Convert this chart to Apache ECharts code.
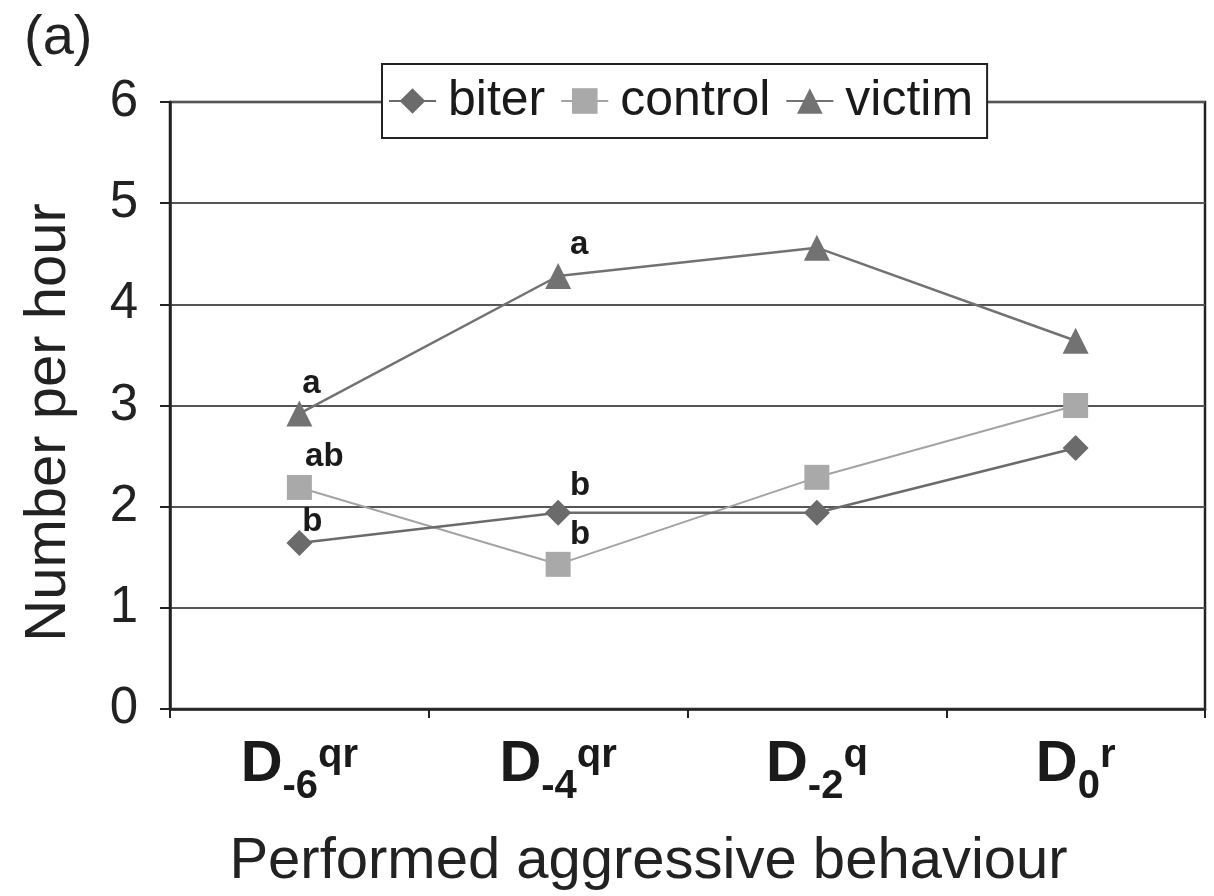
<!DOCTYPE html>
<html>
<head>
<meta charset="utf-8">
<script src="https://cdn.jsdelivr.net/npm/echarts@6/dist/echarts.min.js"></script>
<style>
  html, body { margin: 0; padding: 0; background: #fff; }
  #chart { width: 1214px; height: 896px; }
</style>
</head>
<body>
<div id="chart"></div>
<script>
const FONT = 'Arial, "Liberation Sans", Helvetica, sans-serif';

// categories: base letter + subscript + superscript
const categories = ['D-6qr', 'D-4qr', 'D-2q', 'D0r'];
const catSub = ['-6', '-4', '-2', '0'];
const catSup = ['qr', 'qr', 'q', 'r'];

const biter = [1.64, 1.94, 1.94, 2.58];
const control = [2.19, 1.43, 2.29, 3.0];
const victim = [2.92, 4.28, 4.56, 3.64];

// significance letters above points
const biterMarks = ['b', 'b', '', ''];
const controlMarks = ['ab', 'b', '', ''];
const victimMarks = ['a', 'a', '', ''];

const yTicks = [0, 1, 2, 3, 4, 5, 6];

const markOffsets = {
  biter: [[13, -21], [22, -27]],
  control: [[25, -31], [22, -29]],
  victim: [[12, -30], [21, -31]],
};

const withMarks = (values, marks, offsets) =>
  values.map((v, i) => {
    if (!marks[i]) return v;
    return {
      value: v,
      label: {
        show: true,
        position: 'inside',
        offset: offsets[i],
        formatter: marks[i],
        fontFamily: FONT,
        fontSize: 33,
        fontWeight: 'bold',
        color: '#1a1a1a',
      },
    };
  });

const chart = echarts.init(document.getElementById('chart'), null, { renderer: 'canvas' });

chart.setOption({
  animation: false,
  backgroundColor: '#fff',
  title: {
    text: '(a)',
    left: 19,
    top: 6,
    textStyle: { fontFamily: FONT, fontSize: 56, fontWeight: 'normal', color: '#222' },
  },
  legend: {
    top: 64,
    left: 382,
    itemWidth: 47,
    itemHeight: 32,
    itemGap: 15,
    padding: [12, 14, 12, 6],
    borderColor: '#222',
    borderWidth: 2,
    backgroundColor: '#fff',
    textStyle: { fontFamily: FONT, fontSize: 50, color: '#1a1a1a', padding: [0, 0, 0, 7] },
    data: ['biter', 'control', 'victim'],
  },
  grid: {
    left: 170,
    right: 9,
    top: 102,
    bottom: 184,
    show: true,
    borderColor: '#222',
    borderWidth: 2.5,
  },
  xAxis: {
    type: 'category',
    data: categories,
    boundaryGap: true,
    axisLine: { lineStyle: { color: '#222', width: 2.5 } },
    axisTick: { show: true, length: 9, lineStyle: { color: '#222', width: 2 } },
    axisLabel: {
      margin: 14,
      formatter: (val, i) => `{d|D}{sub|${catSub[i]}}{sup|${catSup[i]}}`,
      rich: {
        d: { fontFamily: FONT, fontSize: 58, fontWeight: 'bold', color: '#1a1a1a', lineHeight: 84, verticalAlign: 'middle' },
        sub: { fontFamily: FONT, fontSize: 40, fontWeight: 'bold', color: '#1a1a1a', lineHeight: 46, verticalAlign: 'bottom' },
        sup: { fontFamily: FONT, fontSize: 40, fontWeight: 'bold', color: '#1a1a1a', padding: [13, 0, 0, 0], verticalAlign: 'top' },
      },
    },
    name: 'Performed aggressive behaviour',
    nameLocation: 'middle',
    nameGap: 124,
    nameTextStyle: { fontFamily: FONT, fontSize: 58, color: '#222', padding: [0, 78, 0, 0] },
    splitLine: { show: false },
  },
  yAxis: {
    type: 'value',
    min: yTicks[0],
    max: yTicks[yTicks.length - 1],
    interval: 1,
    axisLine: { show: true, lineStyle: { color: '#222', width: 2.5 } },
    axisTick: { show: true, length: 10, lineStyle: { color: '#222', width: 2 } },
    axisLabel: { margin: 32, fontFamily: FONT, fontSize: 51, color: '#222' },
    splitLine: { show: true, lineStyle: { color: '#555', width: 2 } },
    name: 'Number per hour',
    nameLocation: 'middle',
    nameGap: 92,
    nameTextStyle: { fontFamily: FONT, fontSize: 58, color: '#222', padding: [0, 34, 0, 0] },
  },
  series: [
    {
      name: 'biter',
      type: 'line',
      data: withMarks(biter, biterMarks, markOffsets.biter),
      symbol: 'diamond',
      symbolSize: 26,
      itemStyle: { color: '#6b6b6b' },
      lineStyle: { color: '#6b6b6b', width: 2.5 },
      z: 4,
    },
    {
      name: 'control',
      type: 'line',
      data: withMarks(control, controlMarks, markOffsets.control),
      symbol: 'rect',
      symbolSize: 25,
      itemStyle: { color: '#a9a9a9' },
      lineStyle: { color: '#a3a3a3', width: 2 },
      z: 3,
    },
    {
      name: 'victim',
      type: 'line',
      data: withMarks(victim, victimMarks, markOffsets.victim),
      symbol: 'triangle',
      symbolSize: 26,
      itemStyle: { color: '#727272' },
      lineStyle: { color: '#727272', width: 2.5 },
      z: 3,
    },
  ],
});
</script>
</body>
</html>
